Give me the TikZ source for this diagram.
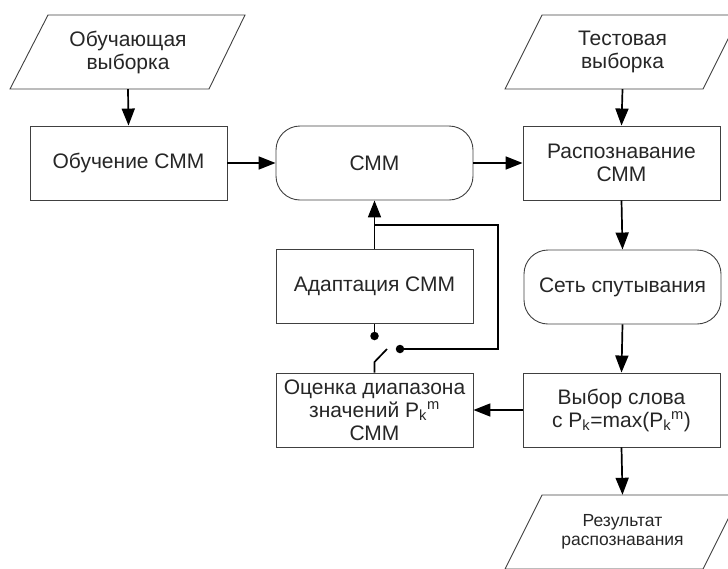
\documentclass[tikz,border=0pt]{standalone}
\usepackage{fontspec}
\setmainfont{Liberation Sans}
\usetikzlibrary{arrows.meta}
\begin{document}
\begin{tikzpicture}[x=1pt,y=-1pt,
  txt/.style={font=\fontsize{21}{23}\selectfont, align=center, text=black!85},
  stepbox/.style={draw=black!75, line width=0.9pt, minimum width=197pt, minimum height=74pt, inner sep=0pt, txt},
  roundbox/.style={stepbox, rounded corners=24pt},
  pbox/.style={minimum width=160pt, minimum height=74pt, inner sep=0pt, txt},
  pshape/.style={draw=black!75, line width=0.9pt},
  conn/.style={line width=1.7pt, -{Triangle[length=17pt,width=13pt]}},
  wire/.style={line width=1.7pt},
  dotn/.style={circle, fill=black, inner sep=0pt, minimum size=8.5pt}
]
\useasboundingbox (0,0) rectangle (728,568);

% parallelograms
\draw[pshape] (48,15) -- (245,15) -- (209,89) -- (10,89) -- cycle;
\node[pbox] (in1) at (128,52) {Обучающая\\выборка};
\draw[pshape] (542,15) -- (740,15) -- (703,89) -- (505,89) -- cycle;
\node[pbox] (in2) at (622.5,52) {Тестовая\\выборка};
\draw[pshape] (542,495) -- (740,495) -- (703,569) -- (505,569) -- cycle;
\node[pbox, font=\fontsize{17.5}{19.5}\selectfont] (out) at (622.5,532) {Результат\\распознавания};

% boxes
\node[stepbox] (train) at (128.5,163) {Обучение СММ};
\node[roundbox] (cmm) at (374.5,163) {СММ};
\node[stepbox] (recog) at (621.5,163) {Распознавание\\СММ};
\node[stepbox] (adapt) at (374.5,286.5) {Адаптация СММ};
\node[roundbox] (net) at (622.5,287) {Сеть спутывания};
\node[stepbox] (eval) at (374.5,410) {Оценка диапазона\\значений P\textsubscript{k}\textsuperscript{m}\\СММ};
\node[stepbox] (choose) at (621.5,410) {Выбор слова\\с P\textsubscript{k}=max(P\textsubscript{k}\textsuperscript{m})};

% connectors
\draw[conn] (in1.south) -- (train.north);
\draw[conn] (in2.south) -- (recog.north);
\draw[conn] (train.east) -- (cmm.west);
\draw[conn] (cmm.east) -- (recog.west);
\draw[conn] (recog.south) -- (net.north);
\draw[conn] (net.south) -- (choose.north);
\draw[conn] (choose.south) -- (out.north);
\draw[conn] (choose.west) -- (eval.east);
\draw[conn] (adapt.north) -- (cmm.south);

% feedback loop with switch
\coordinate (j) at (374.5,225);
\coordinate (c1) at (498,225);
\coordinate (c2) at (498,349);
\node[dotn] (d1) at (374.5,336) {};
\node[dotn] (d2) at (400,349) {};
\coordinate (sw1) at (374.5,362);
\coordinate (sw2) at (387,349);
\draw[wire] (j) -- (c1) -- (c2) -- (d2);
\draw[wire] (adapt.south) -- (d1);
\draw[wire] (eval.north) -- (sw1) -- (sw2);
\end{tikzpicture}
\end{document}
